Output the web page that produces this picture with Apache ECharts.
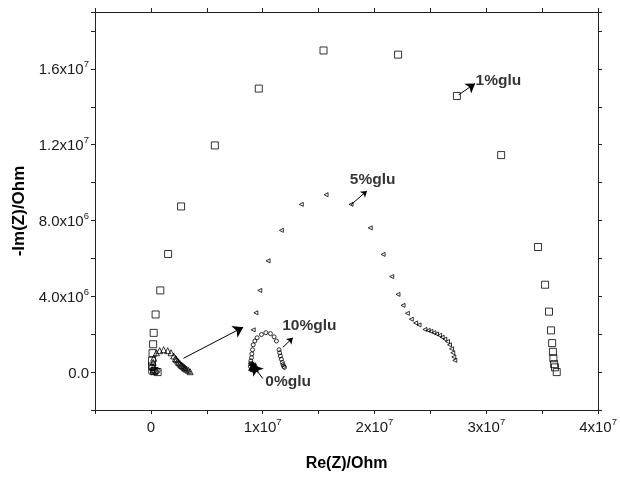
<!DOCTYPE html>
<html>
<head>
<meta charset="utf-8">
<script src="https://cdn.jsdelivr.net/npm/echarts@6/dist/echarts.min.js"></script>
<style>
  html, body { margin: 0; padding: 0; background: #fff; }
  #chart { width: 620px; height: 477px; }
</style>
</head>
<body>
<div id="chart"></div>
<script>
// ---------- data (Ohm) ----------
const glu1Squares = [
  [3.630e7, 0.00e6], [3.614e7, 0.25e6], [3.607e7, 0.42e6], [3.600e7, 0.73e6],
  [3.596e7, 1.07e6], [3.589e7, 1.53e6], [3.579e7, 2.20e6], [3.561e7, 3.19e6],
  [3.526e7, 4.61e6], [3.463e7, 6.60e6], [3.133e7, 11.45e6], [2.737e7, 14.57e6],
  [2.211e7, 16.75e6], [1.544e7, 16.97e6], [0.965e7, 14.96e6], [0.572e7, 11.96e6],
  [0.270e7, 8.74e6], [0.154e7, 6.23e6], [0.084e7, 4.31e6], [0.042e7, 3.04e6],
  [0.025e7, 2.07e6], [0.020e7, 1.47e6], [0.015e7, 1.00e6], [0.010e7, 0.60e6],
  [0.010e7, 0.30e6], [0.030e7, 0.05e6], [0.060e7, 0.00e6]
];
const originTriangles = [
  [0.20e6, 0.10e6], [0.20e6, 0.25e6], [0.20e6, 0.51e6], [0.25e6, 0.73e6],
  [0.49e6, 1.02e6], [0.78e6, 1.13e6], [1.14e6, 1.18e6], [1.50e6, 1.13e6],
  [1.80e6, 1.02e6], [2.04e6, 0.85e6], [2.20e6, 0.72e6], [2.28e6, 0.67e6],
  [2.40e6, 0.58e6], [2.49e6, 0.51e6], [2.60e6, 0.44e6], [2.70e6, 0.38e6],
  [2.79e6, 0.34e6], [2.90e6, 0.29e6], [3.00e6, 0.24e6], [3.07e6, 0.20e6],
  [3.20e6, 0.15e6], [3.36e6, 0.09e6], [3.51e6, 0.02e6]
];
const originCircles = [
  [0.05e6, 0.02e6], [0.25e6, 0.09e6], [0.40e6, 0.03e6], [0.55e6, 0.08e6], [0.10e6, 0.25e6]
];
const glu5Triangles = [
  [9.15e6, 2.23e6], [9.39e6, 3.13e6], [9.74e6, 4.31e6], [10.48e6, 5.87e6],
  [11.67e6, 7.48e6], [13.45e6, 8.85e6], [15.67e6, 9.36e6], [17.90e6, 8.85e6],
  [19.62e6, 7.61e6], [20.77e6, 6.21e6], [21.54e6, 5.04e6], [22.10e6, 4.10e6],
  [22.55e6, 3.52e6], [22.94e6, 3.10e6], [23.29e6, 2.79e6], [23.68e6, 2.59e6],
  [23.98e6, 2.49e6], [24.51e6, 2.25e6], [24.80e6, 2.20e6], [25.04e6, 2.15e6],
  [25.31e6, 2.08e6], [25.55e6, 2.01e6], [25.82e6, 1.94e6], [26.05e6, 1.84e6],
  [26.29e6, 1.74e6], [26.53e6, 1.61e6], [26.71e6, 1.44e6], [26.89e6, 1.23e6],
  [27.00e6, 1.02e6], [27.09e6, 0.80e6], [27.18e6, 0.62e6]
];
const glu10Circles = [
  [8.90e6, 0.30e6], [8.92e6, 0.45e6], [8.94e6, 0.59e6], [9.00e6, 0.76e6],
  [9.03e6, 0.96e6], [9.09e6, 1.18e6], [9.15e6, 1.44e6], [9.30e6, 1.64e6],
  [9.50e6, 1.81e6], [9.89e6, 1.98e6], [10.28e6, 2.08e6], [10.69e6, 2.03e6],
  [11.02e6, 1.86e6], [11.23e6, 1.64e6], [11.46e6, 1.18e6], [11.52e6, 1.02e6],
  [11.58e6, 0.85e6], [11.67e6, 0.68e6], [11.76e6, 0.51e6], [11.82e6, 0.39e6],
  [11.88e6, 0.30e6], [11.95e6, 0.25e6]
];
const glu0Triangles = [
  [8.90e6, 0.10e6], [8.95e6, 0.15e6], [9.00e6, 0.20e6], [9.05e6, 0.25e6],
  [9.10e6, 0.30e6], [9.15e6, 0.22e6], [9.20e6, 0.15e6], [9.30e6, 0.12e6],
  [9.40e6, 0.10e6], [9.00e6, 0.35e6], [8.95e6, 0.45e6], [9.25e6, 0.30e6],
  [9.35e6, 0.20e6], [9.05e6, 0.40e6], [9.20e6, 0.38e6]
];

// annotation texts (left-middle anchor, data coords)
const noteNames = ['1%glu', '5%glu', '10%glu', '0%glu'];
const notePos = [[29.0e6, 15.35e6], [17.75e6, 10.15e6], [11.7e6, 2.45e6], [10.19e6, -0.51e6]];
// arrows: [from, to]
const arrows = [
  [[27.53e6, 14.63e6], [29.0e6, 15.23e6]],
  [[17.9e6, 8.83e6], [19.32e6, 9.56e6]],
  [[11.79e6, 1.30e6], [12.7e6, 1.81e6]],
  [[10.01e6, -0.34e6], [9.09e6, 0.39e6]],
  [[2.92e6, 0.73e6], [8.26e6, 2.37e6]]
];
const arrowSizes = [9, 6, 6, 10, 10];

// axis ticks & labels
const xTickValues = [0, 1e7, 2e7, 3e7, 4e7];
const xTickLabels = ['0', '1x10^7', '2x10^7', '3x10^7', '4x10^7'];
const yTickValues = [0, 4e6, 8e6, 1.2e7, 1.6e7];
const yTickLabels = ['0.0', '4.0x10^6', '8.0x10^6', '1.2x10^7', '1.6x10^7'];

// ---------- chart ----------
const FONT = "'Liberation Sans', Arial, sans-serif";
const AXIS_COLOR = '#222';
const TEXT_COLOR = '#1a1a1a';

function toRich(s) {
  const parts = s.split('^');
  return parts.length > 1 ? '{b|' + parts[0] + '}{s|' + parts[1] + '}' : '{b|' + s + '}';
}
function makeFormatter(vals, labels) {
  return function (v) {
    for (let i = 0; i < vals.length; i++) {
      if (Math.abs(v - vals[i]) < 1) return toRich(labels[i]);
    }
    return '';
  };
}
const rich = {
  b: { fontSize: 15, fontFamily: FONT, color: TEXT_COLOR, lineHeight: 18, verticalAlign: 'bottom' },
  s: { fontSize: 9.5, fontFamily: FONT, color: TEXT_COLOR, lineHeight: 10, verticalAlign: 'top' }
};

const hollow = { color: 'rgba(0,0,0,0)', borderColor: '#000', borderWidth: 1 };

const chart = echarts.init(document.getElementById('chart'), null, { renderer: 'canvas' });

const xBase = { type: 'value', min: -5e6, max: 4e7, interval: 5e6, splitLine: { show: false },
  axisLine: { onZero: false, lineStyle: { color: AXIS_COLOR, width: 1 } },
  axisTick: { inside: false, length: 4, lineStyle: { color: AXIS_COLOR } } };
const yBase = { type: 'value', min: -2e6, max: 1.9e7, interval: 2e6, splitLine: { show: false },
  axisLine: { onZero: false, lineStyle: { color: AXIS_COLOR, width: 1 } },
  axisTick: { inside: false, length: 4, lineStyle: { color: AXIS_COLOR } } };

const option = {
  animation: false,
  backgroundColor: '#fff',
  grid: { left: 95, right: 20, top: 12, bottom: 53, containLabel: false },
  xAxis: [
    Object.assign({}, xBase, {
      position: 'bottom',
      name: 'Re(Z)/Ohm', nameLocation: 'middle', nameGap: 46,
      nameTextStyle: { fontFamily: FONT, fontWeight: 'bold', fontSize: 16, color: '#000' },
      axisLabel: { margin: 7, formatter: makeFormatter(xTickValues, xTickLabels), rich: rich }
    }),
    Object.assign({}, xBase, { position: 'top', axisLabel: { show: false } })
  ],
  yAxis: [
    Object.assign({}, yBase, {
      position: 'left',
      name: '-Im(Z)/Ohm', nameLocation: 'middle', nameGap: 67,
      nameTextStyle: { fontFamily: FONT, fontWeight: 'bold', fontSize: 17, color: '#000' },
      axisLabel: { margin: 6, formatter: makeFormatter(yTickValues, yTickLabels), rich: rich }
    }),
    Object.assign({}, yBase, { position: 'right', axisLabel: { show: false } })
  ],
  series: [
    { type: 'scatter', name: '1%glu', data: glu1Squares, symbol: 'rect', symbolSize: 7, itemStyle: hollow },
    { type: 'scatter', name: 'origin-tri', data: originTriangles, symbol: 'triangle', symbolSize: 6, itemStyle: hollow },
    { type: 'scatter', name: 'origin-circ', data: originCircles, symbol: 'circle', symbolSize: 6, itemStyle: hollow },
    { type: 'scatter', name: '5%glu', data: glu5Triangles, symbol: 'triangle', symbolRotate: 90, symbolSize: 4, itemStyle: hollow },
    { type: 'scatter', name: '10%glu', data: glu10Circles, symbol: 'circle', symbolSize: 4, itemStyle: hollow },
    { type: 'scatter', name: '0%glu', data: glu0Triangles, symbol: 'triangle', symbolRotate: 90, symbolSize: 4,
      itemStyle: { color: '#000', borderColor: '#000', borderWidth: 1 } },
    {
      type: 'scatter', name: 'notes', symbolSize: 1, itemStyle: { color: 'rgba(0,0,0,0)' },
      data: noteNames.map((n, i) => ({ name: n, value: notePos[i] })),
      label: { show: true, position: 'right', distance: 0, formatter: '{b}',
        fontFamily: FONT, fontWeight: 'bold', fontSize: 15.5, color: '#000' },
      silent: true,
      markLine: {
        silent: true, animation: false,
        label: { show: false },
        lineStyle: { color: '#000', width: 1, type: 'solid' },
        data: arrows.map((a, i) => [
          { coord: a[0], symbol: 'none' },
          { coord: a[1], symbol: 'arrow', symbolSize: arrowSizes[i] }
        ])
      }
    }
  ]
};
chart.setOption(option);
</script>
</body>
</html>
